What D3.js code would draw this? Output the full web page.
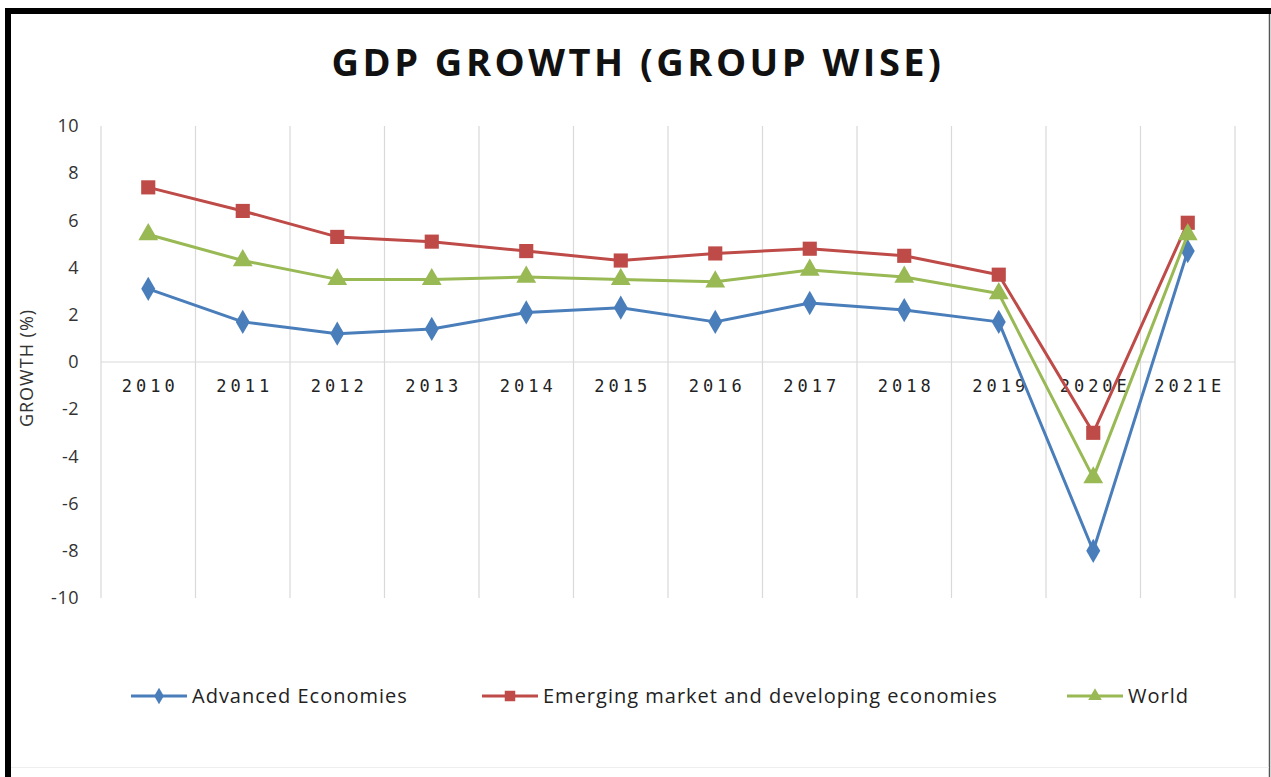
<!DOCTYPE html>
<html>
<head>
<meta charset="utf-8">
<script src="https://cdn.jsdelivr.net/npm/d3@7"></script>
<style>
  body { margin: 0; background: #fff; }
  svg { display: block; }
</style>
</head>
<body>
<div id="chart"></div>
<script>
var years = ["2010", "2011", "2012", "2013", "2014", "2015", "2016", "2017", "2018", "2019", "2020E", "2021E"];
var advanced = [3.1, 1.7, 1.2, 1.4, 2.1, 2.3, 1.7, 2.5, 2.2, 1.7, -8.0, 4.7];
var emerging = [7.4, 6.4, 5.3, 5.1, 4.7, 4.3, 4.6, 4.8, 4.5, 3.7, -3.0, 5.9];
var world = [5.4, 4.3, 3.5, 3.5, 3.6, 3.5, 3.4, 3.9, 3.6, 2.9, -4.9, 5.4];
var yTicks = [10, 8, 6, 4, 2, 0, -2, -4, -6, -8, -10];

var series = [
  { name: "Advanced Economies", values: advanced, color: "#4A7EBB", sym: d3.symbolDiamond },
  { name: "Emerging market and developing economies", values: emerging, color: "#BE4B48", sym: d3.symbolSquare },
  { name: "World", values: world, color: "#98B954", sym: d3.symbolTriangle }
];

var W = 1271, H = 777;
var margin = { left: 101, right: 36, top: 126, bottom: 179 };
var font = "'Open Sans', 'Liberation Sans', sans-serif";

var svg = d3.select("#chart").append("svg")
  .attr("width", W)
  .attr("height", H);

svg.append("rect").attr("width", W).attr("height", H).attr("fill", "#fff");

// frame
svg.append("line").attr("x1", 5).attr("x2", W).attr("y1", 11).attr("y2", 11)
  .attr("stroke", "#000").attr("stroke-width", 6);
svg.append("line").attr("x1", 8).attr("x2", 8).attr("y1", 8).attr("y2", H)
  .attr("stroke", "#000").attr("stroke-width", 6);
svg.append("line").attr("x1", 1269.5).attr("x2", 1269.5).attr("y1", 14).attr("y2", H)
  .attr("stroke", "#555").attr("stroke-width", 1.5);
svg.append("line").attr("x1", 11).attr("x2", 1269).attr("y1", 767.5).attr("y2", 767.5)
  .attr("stroke", "#eee").attr("stroke-width", 1);

// title
svg.append("text")
  .attr("x", 638).attr("y", 76)
  .attr("text-anchor", "middle")
  .style("font-family", font)
  .style("font-weight", "bold")
  .style("font-size", "38px")
  .style("letter-spacing", "3.5px")
  .style("fill", "#111")
  .text("GDP GROWTH (GROUP WISE)");

var x = d3.scaleBand()
  .domain(years)
  .range([margin.left, W - margin.right]);

var y = d3.scaleLinear()
  .domain([-10, 10])
  .range([H - margin.bottom, margin.top]);

// vertical gridlines
var edges = years.map(function(d) { return x(d); }).concat([x.range()[1]]);
svg.selectAll("line.vgrid")
  .data(edges)
  .enter()
  .append("line")
  .attr("class", "vgrid")
  .attr("x1", function(d) { return d; })
  .attr("x2", function(d) { return d; })
  .attr("y1", y(10))
  .attr("y2", y(-10))
  .attr("stroke", "#d9d9d9")
  .attr("stroke-width", 1.2);

// zero line
svg.append("line")
  .attr("x1", x.range()[0]).attr("x2", x.range()[1])
  .attr("y1", y(0)).attr("y2", y(0))
  .attr("stroke", "#d9d9d9")
  .attr("stroke-width", 1.2);

// y axis labels
var yAxis = d3.axisLeft(y).tickValues(yTicks).tickSize(0).tickPadding(0)
  .tickFormat(function(d) { return String(d); });
var ya = svg.append("g")
  .attr("transform", "translate(79,0)")
  .call(yAxis);
ya.select(".domain").remove();
ya.selectAll("text")
  .style("font-family", font)
  .style("font-size", "18px")
  .style("letter-spacing", "0.5px")
  .style("fill", "#333");

// category labels
var xAxis = d3.axisBottom(x).tickSize(0).tickPadding(0);
var xa = svg.append("g")
  .attr("transform", "translate(2," + (y(0) + 18) + ")")
  .call(xAxis);
xa.select(".domain").remove();
xa.selectAll("text")
  .style("font-family", "'DejaVu Sans Mono', monospace")
  .style("font-size", "17px")
  .style("letter-spacing", "4px")
  .style("fill", "#222");

// y title
svg.append("text")
  .attr("transform", "translate(33," + 368 + ") rotate(-90)")
  .attr("text-anchor", "middle")
  .style("font-family", font)
  .style("font-size", "18px")
  .style("letter-spacing", "1px")
  .style("fill", "#333")
  .text("GROWTH (%)");

var line = d3.line()
  .x(function(d, i) { return x(years[i]) + x.bandwidth() / 2; })
  .y(function(d) { return y(d); });

series.forEach(function(s, k) {
  svg.append("path")
    .datum(s.values)
    .attr("d", line)
    .attr("fill", "none")
    .attr("stroke", s.color)
    .attr("stroke-width", 3)
    .attr("stroke-linejoin", "round");

  svg.selectAll("path.m" + k)
    .data(s.values)
    .enter()
    .append("path")
    .attr("class", "m" + k)
    .attr("d", d3.symbol().type(s.sym).size(s.sym === d3.symbolSquare ? 200 : 170))
    .attr("transform", function(d, i) {
      return "translate(" + (x(years[i]) + x.bandwidth() / 2) + "," + y(d) + ")";
    })
    .attr("fill", s.color);
});

// legend
var legendItems = [
  { s: series[0], x0: 131 },
  { s: series[1], x0: 482 },
  { s: series[2], x0: 1067 }
];
var ly = 696;
legendItems.forEach(function(it) {
  var g = svg.append("g").attr("transform", "translate(" + it.x0 + "," + ly + ")");
  g.append("line")
    .attr("x1", 0).attr("x2", 56)
    .attr("y1", 0).attr("y2", 0)
    .attr("stroke", it.s.color)
    .attr("stroke-width", 3);
  g.append("path")
    .attr("d", d3.symbol().type(it.s.sym).size(it.s.sym === d3.symbolSquare ? 110 : 80))
    .attr("transform", "translate(28,0)")
    .attr("fill", it.s.color);
  g.append("text")
    .attr("x", 61).attr("y", 7)
    .style("font-family", font)
    .style("font-size", "20px")
    .style("letter-spacing", "1px")
    .style("fill", "#222")
    .text(it.s.name);
});
</script>
</body>
</html>
